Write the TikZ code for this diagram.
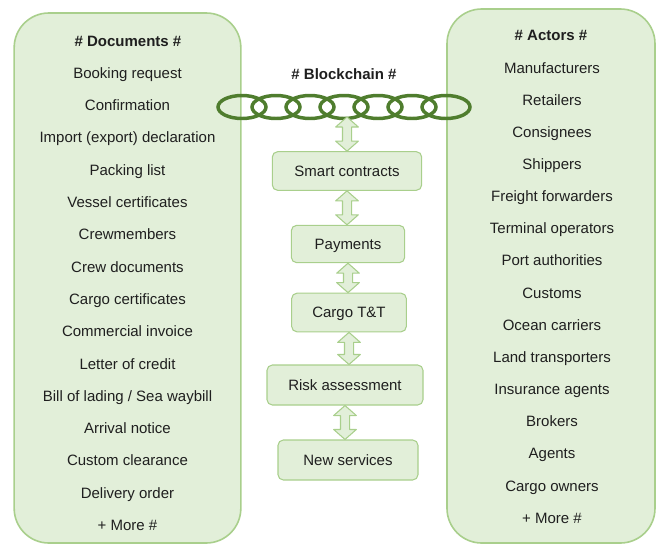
\documentclass[tikz,border=0pt]{standalone}
\usepackage{fontspec}
\setmainfont{Liberation Sans}
\usetikzlibrary{calc}
\definecolor{paleleaf}{HTML}{E2EFD9}
\definecolor{leafedge}{HTML}{A9CF8C}
\definecolor{chaingreen}{HTML}{4F7D2E}
\definecolor{inkgray}{HTML}{1F1F1F}
\begin{document}
\begin{tikzpicture}[x=0.75pt, y=-0.75pt,
                font=\fontsize{11.25}{13.5}\selectfont, text=inkgray,
                panel/.style = {draw=leafedge, fill=paleleaf, line width=1.2pt, rounded corners=26pt},
                item/.style = {inner sep=0pt, text height=8.2pt, text depth=0.2pt, anchor=center},
                head/.style = {item, font=\fontsize{11.25}{13.5}\selectfont\bfseries},
                stage/.style = {draw=leafedge, fill=paleleaf, line width=0.8pt, rounded corners=4pt, inner sep=0pt,
                                text height=8.2pt, text depth=0.2pt},
                link/.style = {draw=chaingreen, line width=2.6pt},
                twoway/.style = {draw=leafedge, fill=paleleaf, line width=0.8pt, line join=round},
            ]
            \useasboundingbox (0,0) rectangle (657,547);

            % the two side panels
            \node (docs) at (127.5,278) [panel, minimum width=170pt, minimum height=397.5pt] {};
            \node (actors) at (551,276) [panel, minimum width=156pt, minimum height=400.5pt] {};

            \node (dochead) at (128,41) [head] {\# Documents \#};
            \foreach \t [count=\i] in {Booking request, Confirmation, Import (export) declaration,
                Packing list, Vessel certificates, Crewmembers, Crew documents, Cargo certificates,
                Commercial invoice, Letter of credit, Bill of lading / Sea waybill, Arrival notice,
                Custom clearance, Delivery order, + More \#}
                \node (doc\i) at (127.5,40.7+32.3*\i) [item] {\t};

            \node (acthead) at (551,35) [head] {\# Actors \#};
            \foreach \t [count=\i] in {Manufacturers, Retailers, Consignees, Shippers,
                Freight forwarders, Terminal operators, Port authorities, Customs, Ocean carriers,
                Land transporters, Insurance agents, Brokers, Agents, Cargo owners, + More \#}
                \node (act\i) at (552,35.6+32.15*\i) [item] {\t};

            % blockchain
            \node (chainhead) at (344,74) [head] {\# Blockchain \#};
            \foreach \k in {0,...,6}
                \draw[link] (242+34*\k,107) ellipse [x radius=24, y radius=11.5];
            \coordinate (chain) at (347,117);

            % stages
            \node (smart) at (347,171) [stage, minimum width=112pt, minimum height=29pt] {Smart contracts};
            \node (pay) at (348,244) [stage, minimum width=85pt, minimum height=28pt] {Payments};
            \node (track) at (349,312.5) [stage, minimum width=86pt, minimum height=29pt] {Cargo T\&T};
            \node (risk) at (345,385) [stage, minimum width=117pt, minimum height=30pt] {Risk assessment};
            \node (newserv) at (348,460) [stage, minimum width=105pt, minimum height=30pt] {New services};

            \foreach \a/\b in {chain/smart.north, smart.south/pay.north, pay.south/track.north,
                               track.south/risk.north, risk.south/newserv.north}
                \draw[twoway] let \p1 = (\a), \p2 = (\b) in
                    (\x1,\y1) -- (\x1+8.5pt,\y1-7.5pt) -- (\x1+3.4pt,\y1-7.5pt) -- (\x1+3.4pt,\y2+7.5pt)
                    -- (\x1+8.5pt,\y2+7.5pt) -- (\x1,\y2) -- (\x1-8.5pt,\y2+7.5pt) -- (\x1-3.4pt,\y2+7.5pt)
                    -- (\x1-3.4pt,\y1-7.5pt) -- (\x1-8.5pt,\y1-7.5pt) -- cycle;
        \end{tikzpicture}
\end{document}
